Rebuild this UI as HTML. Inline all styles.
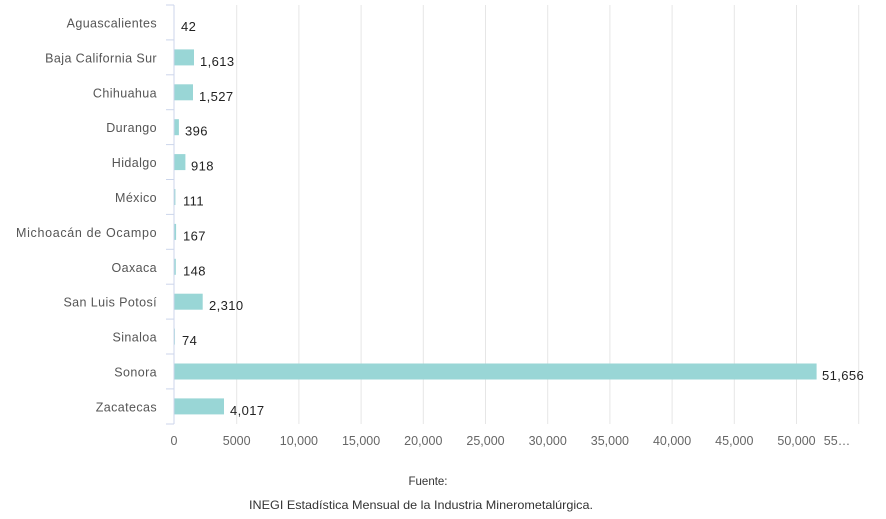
<!DOCTYPE html>
<html><head><meta charset="utf-8"><style>
html,body{margin:0;padding:0;background:#fff;width:886px;height:519px;overflow:hidden}
svg text{font-family:"Liberation Sans",sans-serif}
</style></head><body>
<svg width="886" height="519" viewBox="0 0 886 519" xmlns="http://www.w3.org/2000/svg">
<g stroke="#e6e6e6" stroke-width="1">
<line x1="236.7" y1="5" x2="236.7" y2="424"/>
<line x1="298.9" y1="5" x2="298.9" y2="424"/>
<line x1="361.1" y1="5" x2="361.1" y2="424"/>
<line x1="423.3" y1="5" x2="423.3" y2="424"/>
<line x1="485.5" y1="5" x2="485.5" y2="424"/>
<line x1="547.7" y1="5" x2="547.7" y2="424"/>
<line x1="609.9" y1="5" x2="609.9" y2="424"/>
<line x1="672.1" y1="5" x2="672.1" y2="424"/>
<line x1="734.3" y1="5" x2="734.3" y2="424"/>
<line x1="796.5" y1="5" x2="796.5" y2="424"/>
<line x1="858.7" y1="5" x2="858.7" y2="424"/>
</g>
<g fill="#99d6d6">
<rect x="174" y="14.5" width="0.5" height="16"/>
<rect x="174" y="49.4" width="20" height="16"/>
<rect x="174" y="84.3" width="19" height="16"/>
<rect x="174" y="119.2" width="4.9" height="16"/>
<rect x="174" y="154.1" width="11.4" height="16"/>
<rect x="174" y="189" width="1.4" height="16"/>
<rect x="174" y="223.9" width="2.1" height="16"/>
<rect x="174" y="258.8" width="1.8" height="16"/>
<rect x="174" y="293.7" width="28.7" height="16"/>
<rect x="174" y="328.6" width="0.9" height="16"/>
<rect x="174" y="363.5" width="642.6" height="16"/>
<rect x="174" y="398.4" width="50" height="16"/>
</g>
<g stroke="#ccd6eb" stroke-width="1">
<line x1="174" y1="5" x2="174" y2="424"/>
<line x1="166" y1="5" x2="174" y2="5"/>
<line x1="166" y1="39.9" x2="174" y2="39.9"/>
<line x1="166" y1="74.8" x2="174" y2="74.8"/>
<line x1="166" y1="109.7" x2="174" y2="109.7"/>
<line x1="166" y1="144.6" x2="174" y2="144.6"/>
<line x1="166" y1="179.5" x2="174" y2="179.5"/>
<line x1="166" y1="214.4" x2="174" y2="214.4"/>
<line x1="166" y1="249.3" x2="174" y2="249.3"/>
<line x1="166" y1="284.2" x2="174" y2="284.2"/>
<line x1="166" y1="319.1" x2="174" y2="319.1"/>
<line x1="166" y1="354" x2="174" y2="354"/>
<line x1="166" y1="388.9" x2="174" y2="388.9"/>
<line x1="166" y1="424" x2="174" y2="424"/>
</g>
<g fill="#555" font-size="12.5" text-anchor="end" letter-spacing="0.4">
<text x="157" y="27.5">Aguascalientes</text>
<text x="157" y="62.4">Baja California Sur</text>
<text x="157" y="97.3">Chihuahua</text>
<text x="157" y="132.2">Durango</text>
<text x="157" y="167.1">Hidalgo</text>
<text x="157" y="202">México</text>
<text x="157" y="236.9" textLength="141">Michoacán de Ocampo</text>
<text x="157" y="271.8">Oaxaca</text>
<text x="157" y="306.7">San Luis Potosí</text>
<text x="157" y="341.6">Sinaloa</text>
<text x="157" y="376.5">Sonora</text>
<text x="157" y="411.4">Zacatecas</text>
</g>
<g fill="#222" font-size="13" letter-spacing="0.4">
<text x="181" y="31">42</text>
<text x="200" y="65.9">1,613</text>
<text x="199" y="100.8">1,527</text>
<text x="185" y="135.7">396</text>
<text x="191" y="170.6">918</text>
<text x="183" y="205.5">111</text>
<text x="183" y="240.4">167</text>
<text x="183" y="275.3">148</text>
<text x="209" y="310.2">2,310</text>
<text x="182" y="345.1">74</text>
<text x="822" y="380">51,656</text>
<text x="230" y="414.9">4,017</text>
</g>
<g fill="#666" font-size="12.5" text-anchor="middle">
<text x="174" y="445">0</text>
<text x="236.7" y="445">5000</text>
<text x="298.9" y="445">10,000</text>
<text x="361.1" y="445">15,000</text>
<text x="423.3" y="445">20,000</text>
<text x="485.5" y="445">25,000</text>
<text x="547.7" y="445">30,000</text>
<text x="609.9" y="445">35,000</text>
<text x="672.1" y="445">40,000</text>
<text x="734.3" y="445">45,000</text>
<text x="796.5" y="445">50,000</text>
<text x="837" y="445">55…</text>
</g>
<g fill="#333" text-anchor="middle">
<text x="428" y="485" font-size="11.5">Fuente:</text>
<text x="421" y="509" font-size="12" textLength="344" lengthAdjust="spacingAndGlyphs">INEGI Estadística Mensual de la Industria Minerometalúrgica.</text>
</g>
</svg>
</body></html>
